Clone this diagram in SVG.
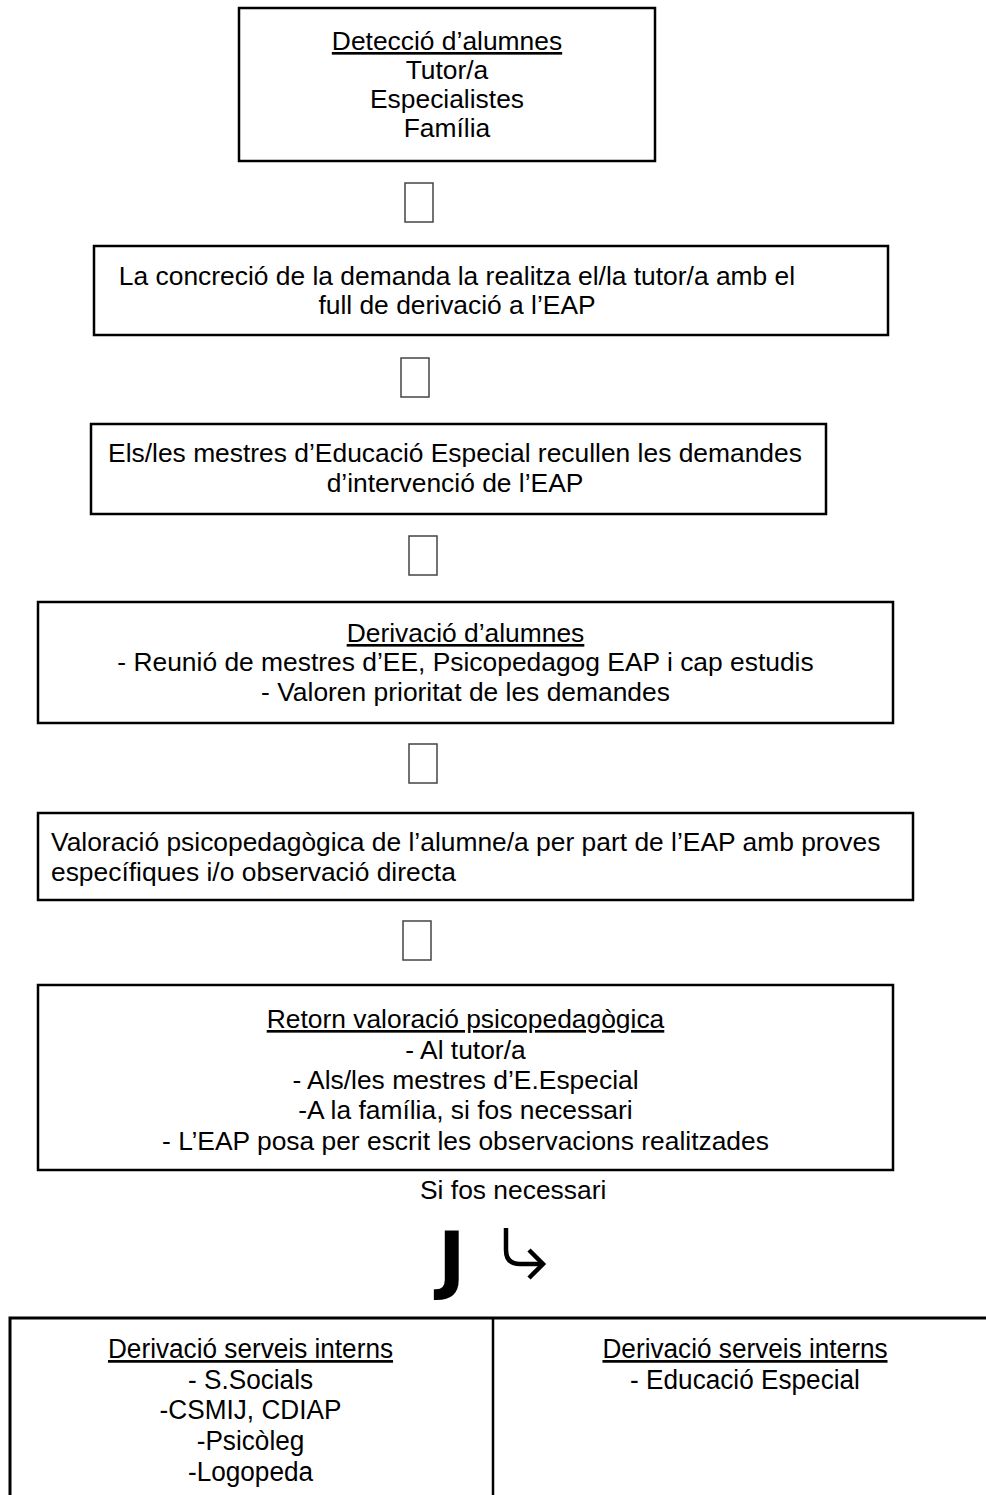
<svg xmlns="http://www.w3.org/2000/svg" width="986" height="1495" viewBox="0 0 986 1495">
<style>
.box{fill:#fff;stroke:#000;stroke-width:2.5}
.sq{fill:#fff;stroke:#444;stroke-width:1.5}
.arr{fill:none;stroke:#000;stroke-width:4.5}
.t{font-family:"Liberation Sans",Arial,sans-serif;font-size:26.4px;fill:#000}
.c{text-anchor:middle}
.u{text-decoration:underline}
.n{font-family:"Liberation Sans",Arial,sans-serif;font-size:27px;fill:#000;text-anchor:middle}
</style>
<rect width="986" height="1495" fill="#fff"/>
<g id="n1">
<rect class="box" x="239" y="8" width="416" height="153"/>
<text class="t c u" x="447" y="50">Detecció d’alumnes</text>
<text class="t c" x="447" y="79">Tutor/a</text>
<text class="t c" x="447" y="108">Especialistes</text>
<text class="t c" x="447" y="137">Família</text>
</g>
<g id="n2">
<rect class="box" x="94" y="246" width="794" height="89"/>
<text class="t c" x="457" y="285">La concreció de la demanda la realitza el/la tutor/a amb el</text>
<text class="t c" x="457" y="314">full de derivació a l’EAP</text>
</g>
<g id="n3">
<rect class="box" x="91" y="424" width="735" height="90"/>
<text class="t c" x="455" y="462">Els/les mestres d’Educació Especial recullen les demandes</text>
<text class="t c" x="455" y="492">d’intervenció de l’EAP</text>
</g>
<g id="n4">
<rect class="box" x="38" y="602" width="855" height="121"/>
<text class="t c u" x="465.5" y="642">Derivació d’alumnes</text>
<text class="t c" x="465.5" y="671">- Reunió de mestres d’EE, Psicopedagog EAP i cap estudis</text>
<text class="t c" x="465.5" y="701">- Valoren prioritat de les demandes</text>
</g>
<g id="n5">
<rect class="box" x="38" y="813" width="875" height="87"/>
<text class="t" x="51" y="851">Valoració psicopedagògica de l’alumne/a per part de l’EAP amb proves</text>
<text class="t" x="51" y="881">específiques i/o observació directa</text>
</g>
<g id="n6">
<rect class="box" x="38" y="985" width="855" height="185"/>
<text class="t c u" x="465.5" y="1028">Retorn valoració psicopedagògica</text>
<text class="t c" x="465.5" y="1058.5">- Al tutor/a</text>
<text class="t c" x="465.5" y="1089">- Als/les mestres d’E.Especial</text>
<text class="t c" x="465.5" y="1119">-A la família, si fos necessari</text>
<text class="t c" x="465.5" y="1149.5">- L’EAP posa per escrit les observacions realitzades</text>
</g>
<g id="label">
<text class="t" x="420" y="1199">Si fos necessari</text>
</g>
<g id="connectors">
<rect class="sq" x="405" y="183" width="28" height="39"/>
<rect class="sq" x="401" y="358" width="28" height="39"/>
<rect class="sq" x="409" y="536" width="28" height="39"/>
<rect class="sq" x="409" y="744" width="28" height="39"/>
<rect class="sq" x="403" y="921" width="28" height="39"/>
<text x="438" y="1285" style="font-family:'DejaVu Sans',sans-serif;font-weight:bold;font-size:74px">J</text>
<path class="arr" d="M506,1228 V1250 Q506,1264 520,1264 H543"/>
<path class="arr" d="M529,1250 L543,1264 L529,1278"/>
</g>
<g id="n7">
<rect x="10" y="1318" width="990" height="200" fill="#fff" stroke="#000" stroke-width="3"/>
<line x1="493" y1="1318" x2="493" y2="1495" stroke="#000" stroke-width="2.5"/>
<text class="n u" transform="translate(250.5,1358) scale(0.97,1)">Derivació serveis interns</text>
<text class="n" transform="translate(250.5,1388.5) scale(0.97,1)">- S.Socials</text>
<text class="n" transform="translate(250.5,1419) scale(0.97,1)">-CSMIJ, CDIAP</text>
<text class="n" transform="translate(250.5,1450) scale(0.97,1)">-Psicòleg</text>
<text class="n" transform="translate(250.5,1481) scale(0.97,1)">-Logopeda</text>
</g>
<g id="n8">
<text class="n u" transform="translate(745,1358) scale(0.97,1)">Derivació serveis interns</text>
<text class="n" transform="translate(745,1388.5) scale(0.97,1)">- Educació Especial</text>
</g>
</svg>
